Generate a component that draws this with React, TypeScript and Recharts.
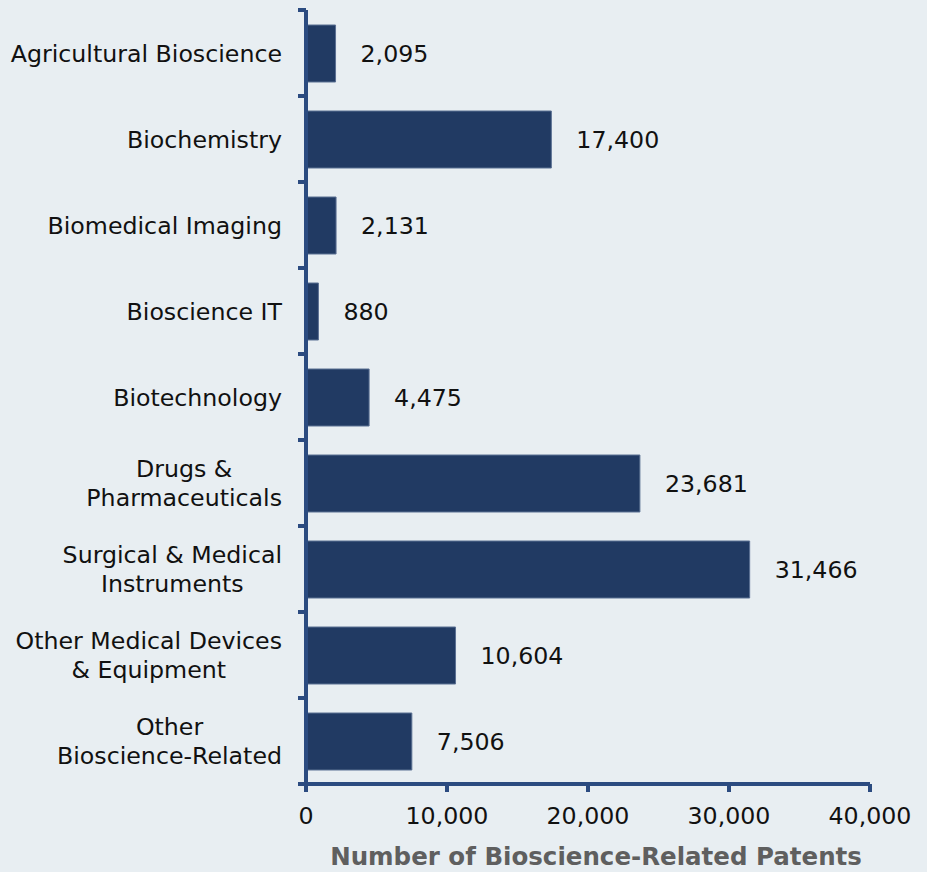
import React from 'react';
import { Bar, BarChart, LabelList, XAxis, YAxis } from 'recharts';

// categories, "\n" marks where the original label wraps
const categories = [
  'Agricultural Bioscience',
  'Biochemistry',
  'Biomedical Imaging',
  'Bioscience IT',
  'Biotechnology',
  'Drugs &\nPharmaceuticals',
  'Surgical & Medical\nInstruments',
  'Other Medical Devices\n& Equipment',
  'Other\nBioscience-Related',
];

const patents = [2095, 17400, 2131, 880, 4475, 23681, 31466, 10604, 7506];

const xTicks = [0, 10000, 20000, 30000, 40000];

const data = categories.map((name, i) => ({ name, patents: patents[i] }));

const W = 927;
const H = 872;
const TOP = 10;
const Y_AXIS_W = 306;
const X_AXIS_H = 88;
const RIGHT = 57;
const FONT = '"DejaVu Sans", Verdana, sans-serif';
const FS = 23.7;
const LINE_H = 29;
const TICK_GAP = 24;

const BG = '#e8eef2';
const BAR = '#213a63';
const AXIS = '#2b4b80';
const TEXT = '#111111';

const band = (H - TOP - X_AXIS_H) / categories.length;

let ctx: CanvasRenderingContext2D | null = null;
function measure(s: string) {
  if (!ctx) {
    ctx = document.createElement('canvas').getContext('2d');
    if (ctx) ctx.font = `${FS}px "DejaVu Sans"`;
  }
  return ctx ? ctx.measureText(s).width : s.length * FS * 0.6;
}

// y tick: wrapped label centred as a block, tick mark on the band boundary
function CategoryTick(props: any) {
  const { x, y, payload, index } = props;
  const lines = String(payload.value).split('\n');
  const widest = Math.max(...lines.map(measure));
  const cx = x - widest / 2;
  const axisX = x + TICK_GAP;
  const half = band / 2;
  const first = -((lines.length - 1) * LINE_H) / 2 + FS * 0.36;
  return (
    <g>
      <line x1={axisX - 8} x2={axisX} y1={y - half} y2={y - half} stroke={AXIS} strokeWidth={4} />
      {index === categories.length - 1 && (
        <line x1={axisX - 8} x2={axisX} y1={y + half} y2={y + half} stroke={AXIS} strokeWidth={4} />
      )}
      <text x={cx} y={y} textAnchor="middle" fontSize={FS} fontFamily={FONT} fill={TEXT}>
        {lines.map((l, i) => (
          <tspan key={i} x={cx} dy={i === 0 ? first : LINE_H}>
            {l}
          </tspan>
        ))}
      </text>
    </g>
  );
}

export default function App() {
  const fmt = (v: any) => Number(v).toLocaleString('en-US');
  return (
    <div style={{ position: 'absolute', left: 0, top: 0, width: W, height: H, background: BG }}>
      <BarChart
        width={W}
        height={H}
        data={data}
        layout="vertical"
        margin={{ top: TOP, right: RIGHT, bottom: 0, left: 0 }}
        style={{ fontFamily: FONT }}
      >
        <XAxis
          type="number"
          domain={[0, 40000]}
          ticks={xTicks}
          tickFormatter={fmt}
          height={X_AXIS_H}
          axisLine={{ stroke: AXIS, strokeWidth: 4 }}
          tickLine={{ stroke: AXIS, strokeWidth: 4 }}
          tickSize={8}
          tickMargin={15}
          tick={{ fill: TEXT, fontSize: FS, fontFamily: FONT }}
          label={{
            value: 'Number of Bioscience-Related Patents',
            position: 'insideBottom',
            offset: 7,
            dx: 8,
            fill: '#5f5f5f',
            fontSize: 24.5,
            fontWeight: 'bold',
            fontFamily: FONT,
          }}
        />
        <YAxis
          type="category"
          dataKey="name"
          width={Y_AXIS_W}
          axisLine={{ stroke: AXIS, strokeWidth: 4 }}
          tickLine={false}
          tickSize={0}
          tickMargin={TICK_GAP}
          interval={0}
          tick={<CategoryTick />}
        />
        <Bar dataKey="patents" fill={BAR} stroke="#5b7093" strokeWidth={1} barSize={57} isAnimationActive={false}>
          <LabelList
            dataKey="patents"
            position="right"
            offset={25}
            formatter={fmt}
            fill={TEXT}
            fontSize={FS}
            fontFamily={FONT}
          />
        </Bar>
      </BarChart>
    </div>
  );
}
